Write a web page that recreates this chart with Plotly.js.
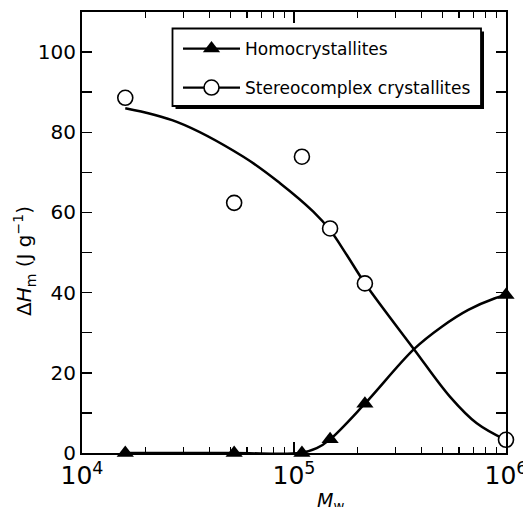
<!DOCTYPE html>
<html><head><meta charset="utf-8">
<script src="https://cdn.plot.ly/plotly-3.0.1.min.js"></script>
<style>html,body{margin:0;padding:0;background:#fff}</style>
</head><body><div id="chart" style="width:523px;height:507px"></div>
<script>
// Measured data points
const homoX = [1.6e4, 5.22e4, 1.09e5, 1.48e5, 2.16e5, 1e6];
const homoY = [0, 0, 0, 3.4, 12.3, 39.4];
const stereoX = [1.6e4, 5.22e4, 1.09e5, 1.48e5, 2.16e5, 1e6];
const stereoY = [88.6, 62.4, 73.9, 56.0, 42.3, 3.3];
// Curves as drawn in the figure
const homoCurveX = [1.6e4, 5.22e4, 1.07e5, 1.28e5, 1.48e5, 2.16e5, 3.68e5, 4.98e5, 6.64e5, 8.87e5, 1e6];
const homoCurveY = [0, 0, 0, 1.2, 3.4, 12.3, 25.9, 31.5, 35.7, 38.6, 39.4];
const stereoCurveX = [1.6e4, 2.8e4, 5.77e4, 8.59e4, 1.233e5, 1.479e5, 1.774e5, 2.163e5, 3.68e5, 5.45e5, 7.28e5, 1e6];
const stereoCurveY = [86.0, 82.6, 73.9, 67.3, 60.2, 55.6, 49.4, 42.3, 25.9, 14.0, 7.4, 3.2];
const seriesNames = ['Homocrystallites', 'Stereocomplex crystallites'];
const yTickVals = [0, 20, 40, 60, 80, 100];

const FONT = 'DejaVu Sans, Lato, sans-serif';
const triMarker = {symbol: 'triangle-up', size: 15, color: '#000', line: {width: 0}};
const circMarker = {symbol: 'circle', size: 15, color: '#fff', line: {width: 1.6, color: '#000'}};

const traces = [
  {x: homoCurveX, y: homoCurveY, mode: 'lines', line: {color: '#000', width: 2.5, shape: 'spline', smoothing: 1}, showlegend: false, hoverinfo: 'skip'},
  {x: stereoCurveX, y: stereoCurveY, mode: 'lines', line: {color: '#000', width: 2.5, shape: 'spline', smoothing: 1}, showlegend: false, hoverinfo: 'skip'},
  {x: homoX, y: homoY, mode: 'markers', marker: triMarker, showlegend: false, cliponaxis: false},
  {x: stereoX, y: stereoY, mode: 'markers', marker: circMarker, showlegend: false, cliponaxis: false},
  {x: [null], y: [null], name: seriesNames[0], mode: 'lines+markers', line: {color: '#000', width: 2.3}, marker: triMarker, legend: 'legend'},
  {x: [null], y: [null], name: seriesNames[1], mode: 'lines+markers', line: {color: '#000', width: 2.3}, marker: circMarker, legend: 'legend2'}
];

const L = 82, T = 12, W = 424, H = 441;
const px = v => (v - L) / W;
const py = v => (T + H - v) / H;

const legendCommon = {bgcolor: 'rgba(0,0,0,0)', borderwidth: 0, font: {family: FONT, size: 17, color: '#000'}, xanchor: 'left', yanchor: 'middle', itemwidth: 57, itemclick: false, itemdoubleclick: false};

const layout = {
  width: 523, height: 507,
  margin: {l: L, r: 523 - L - W, t: T, b: 507 - T - H},
  paper_bgcolor: '#fff', plot_bgcolor: '#fff',
  font: {family: FONT, color: '#000'},
  xaxis: {
    type: 'log', range: [4, 6.00001], dtick: 1, exponentformat: 'power', showexponent: 'all',
    ticklabeloverflow: 'allow',
    ticks: 'inside', ticklen: 11, tickwidth: 1.5, tickcolor: '#000',
    minor: {dtick: 'D1', ticks: 'inside', ticklen: 6, tickwidth: 1.3, tickcolor: '#000'},
    showline: true, linewidth: 2, linecolor: '#000', mirror: 'ticks',
    showgrid: false, zeroline: false,
    tickfont: {family: FONT, size: 20, color: '#000'}
  },
  yaxis: {
    range: [0, 110], tickvals: yTickVals,
    ticklabeloverflow: 'allow',
    ticks: 'inside', ticklen: 10, tickwidth: 1.5, tickcolor: '#000',
    minor: {dtick: 10, ticks: 'inside', ticklen: 10, tickwidth: 1.5, tickcolor: '#000'},
    showline: true, linewidth: 2, linecolor: '#000', mirror: 'ticks',
    showgrid: false, zeroline: false,
    tickfont: {family: FONT, size: 20, color: '#000'}
  },
  legend: Object.assign({}, legendCommon, {x: px(178), y: py(49)}),
  legend2: Object.assign({}, legendCommon, {x: px(178), y: py(88)}),
  shapes: [
    {type: 'rect', xref: 'paper', yref: 'paper', x0: px(175.5), x1: px(484), y0: py(109), y1: py(31.5), fillcolor: '#000', line: {width: 0}, layer: 'above'},
    {type: 'rect', xref: 'paper', yref: 'paper', x0: px(172.5), x1: px(481), y0: py(106), y1: py(28.5), fillcolor: '#fff', line: {width: 1.8, color: '#000'}, layer: 'above'}
  ],
  annotations: [
    {xref: 'paper', yref: 'paper', x: px(24), y: py(261), text: 'Δ<i>H</i><sub>m</sub> (J g<sup>−1</sup>)', textangle: -90, showarrow: false, font: {family: FONT, size: 20, color: '#000'}, xanchor: 'center', yanchor: 'middle'},
    {xref: 'paper', yref: 'paper', x: px(330), y: py(487), text: '<i>M</i><sub>w</sub>', showarrow: false, font: {family: FONT, size: 19, color: '#000'}, xanchor: 'center', yanchor: 'top'}
  ]
};

Plotly.newPlot('chart', traces, layout, {displayModeBar: false, staticPlot: true});
</script></body></html>
